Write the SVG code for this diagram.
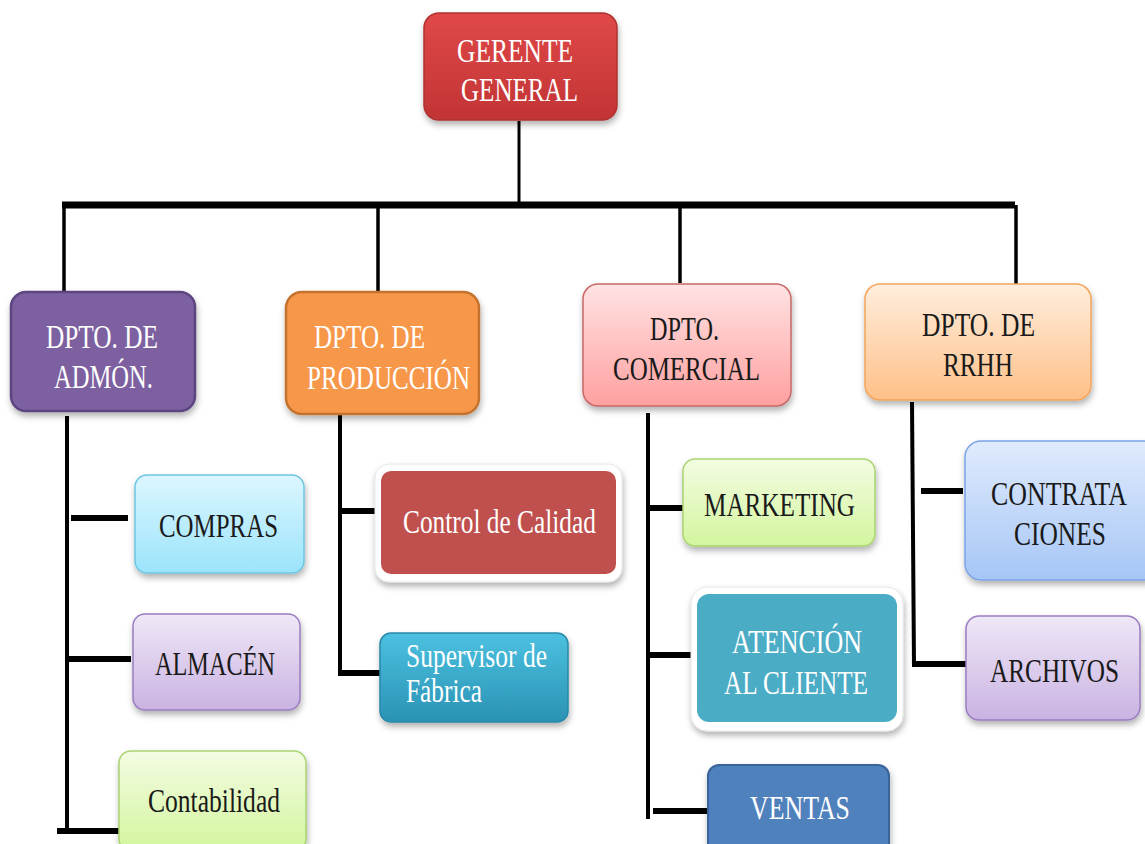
<svg xmlns="http://www.w3.org/2000/svg" width="1145" height="844" viewBox="0 0 1145 844">
<defs>
<filter id="sh" x="-10%" y="-10%" width="125%" height="130%">
<feDropShadow dx="1" dy="4" stdDeviation="3" flood-color="#000" flood-opacity="0.3"/>
</filter>
<linearGradient id="gRed" x1="0" y1="0" x2="0" y2="1"><stop offset="0" stop-color="#e04848"/><stop offset="1" stop-color="#c23434"/></linearGradient>
<linearGradient id="gPink" x1="0" y1="0" x2="0" y2="1"><stop offset="0" stop-color="#ffe3e3"/><stop offset="1" stop-color="#ffa0a0"/></linearGradient>
<linearGradient id="gPeach" x1="0" y1="0" x2="0" y2="1"><stop offset="0" stop-color="#ffeedd"/><stop offset="1" stop-color="#ffc088"/></linearGradient>
<linearGradient id="gCyan" x1="0" y1="0" x2="0" y2="1"><stop offset="0" stop-color="#dcf6ff"/><stop offset="1" stop-color="#9be4fb"/></linearGradient>
<linearGradient id="gLav" x1="0" y1="0" x2="0" y2="1"><stop offset="0" stop-color="#efe8f7"/><stop offset="1" stop-color="#c9b2e2"/></linearGradient>
<linearGradient id="gLime" x1="0" y1="0" x2="0" y2="1"><stop offset="0" stop-color="#f3fce2"/><stop offset="1" stop-color="#d3f59e"/></linearGradient>
<linearGradient id="gBlueL" x1="0" y1="0" x2="0" y2="1"><stop offset="0" stop-color="#e0ebfd"/><stop offset="1" stop-color="#a6c6f6"/></linearGradient>
<linearGradient id="gTeal" x1="0" y1="0" x2="0" y2="1"><stop offset="0" stop-color="#4cc0e0"/><stop offset="1" stop-color="#2a93b5"/></linearGradient>
</defs>
<style>
.t{font-family:"Liberation Serif","Times New Roman",serif;font-size:34px;}
.w{fill:#ffffff;}
.d{fill:#1a1a1a;}
.c{stroke:#000;fill:none;stroke-linecap:butt;}
</style>

<g id="connectors">
<line class="c" x1="519" y1="121" x2="519" y2="204" stroke-width="3"/>
<line class="c" x1="62" y1="205" x2="1015" y2="205" stroke-width="7"/>
<line class="c" x1="64" y1="205" x2="64" y2="292" stroke-width="3.5"/>
<line class="c" x1="378" y1="205" x2="378" y2="291" stroke-width="3.5"/>
<line class="c" x1="680" y1="205" x2="680" y2="283" stroke-width="3.5"/>
<line class="c" x1="1016" y1="205" x2="1016" y2="284" stroke-width="3.5"/>

<line class="c" x1="67" y1="416" x2="67" y2="832" stroke-width="4"/>
<line class="c" x1="71" y1="518" x2="128" y2="518" stroke-width="6"/>
<line class="c" x1="67" y1="659" x2="131" y2="659" stroke-width="6"/>
<line class="c" x1="57" y1="831" x2="120" y2="831" stroke-width="6"/>

<line class="c" x1="340" y1="415" x2="340" y2="675" stroke-width="4"/>
<line class="c" x1="342" y1="511" x2="377" y2="511" stroke-width="6"/>
<line class="c" x1="338" y1="673" x2="381" y2="673" stroke-width="6"/>

<line class="c" x1="648" y1="413" x2="648" y2="819" stroke-width="4"/>
<line class="c" x1="650" y1="508" x2="685" y2="508" stroke-width="6"/>
<line class="c" x1="650" y1="655" x2="698" y2="655" stroke-width="6"/>
<line class="c" x1="653" y1="811" x2="707" y2="811" stroke-width="6"/>

<line class="c" x1="912" y1="402" x2="914" y2="666" stroke-width="4"/>
<line class="c" x1="921" y1="491" x2="963" y2="491" stroke-width="6"/>
<line class="c" x1="912" y1="664" x2="969" y2="664" stroke-width="6"/>
</g>

<g id="gerente">
<rect x="424" y="13" width="193" height="107" rx="15" fill="url(#gRed)" stroke="#b03030" stroke-width="1.5" filter="url(#sh)"/>
<text class="t w" x="457" y="62" textLength="116" lengthAdjust="spacingAndGlyphs">GERENTE</text>
<text class="t w" x="461" y="101" textLength="117" lengthAdjust="spacingAndGlyphs">GENERAL</text>
</g>

<g id="admon">
<rect x="11" y="292" width="184" height="119" rx="15" fill="#7d60a0" stroke="#5c4580" stroke-width="2.5" filter="url(#sh)"/>
<text class="t w" x="46" y="348" textLength="112" lengthAdjust="spacingAndGlyphs">DPTO. DE</text>
<text class="t w" x="54" y="388" textLength="99" lengthAdjust="spacingAndGlyphs">ADMÓN.</text>
</g>

<g id="produccion">
<rect x="286" y="292" width="193" height="122" rx="16" fill="#f7974a" stroke="#c4732f" stroke-width="2.5" filter="url(#sh)"/>
<text class="t w" x="314" y="348" textLength="111" lengthAdjust="spacingAndGlyphs">DPTO. DE</text>
<text class="t w" x="307" y="389" textLength="163" lengthAdjust="spacingAndGlyphs">PRODUCCIÓN</text>
</g>

<g id="comercial">
<rect x="583" y="284" width="208" height="122" rx="15" fill="url(#gPink)" stroke="#c86868" stroke-width="1.5" filter="url(#sh)"/>
<text class="t d" x="650" y="340" textLength="69" lengthAdjust="spacingAndGlyphs">DPTO.</text>
<text class="t d" x="613" y="380" textLength="147" lengthAdjust="spacingAndGlyphs">COMERCIAL</text>
</g>

<g id="rrhh">
<rect x="865" y="284" width="226" height="116" rx="15" fill="url(#gPeach)" stroke="#f4a55c" stroke-width="1.5" filter="url(#sh)"/>
<text class="t d" x="922" y="336" textLength="113" lengthAdjust="spacingAndGlyphs">DPTO. DE</text>
<text class="t d" x="943" y="376" textLength="70" lengthAdjust="spacingAndGlyphs">RRHH</text>
</g>

<g id="compras">
<rect x="135" y="475" width="169" height="98" rx="12" fill="url(#gCyan)" stroke="#6cc6e2" stroke-width="1.5" filter="url(#sh)"/>
<text class="t d" x="159" y="537" textLength="119" lengthAdjust="spacingAndGlyphs">COMPRAS</text>
</g>

<g id="almacen">
<rect x="133" y="614" width="167" height="96" rx="12" fill="url(#gLav)" stroke="#9a7cc0" stroke-width="1.5" filter="url(#sh)"/>
<text class="t d" x="155" y="675" textLength="120" lengthAdjust="spacingAndGlyphs">ALMACÉN</text>
</g>

<g id="contabilidad">
<rect x="119" y="751" width="187" height="100" rx="12" fill="url(#gLime)" stroke="#a8d470" stroke-width="1.5" filter="url(#sh)"/>
<text class="t d" x="148" y="812" textLength="132" lengthAdjust="spacingAndGlyphs">Contabilidad</text>
</g>

<g id="control-calidad">
<rect x="375" y="464" width="247" height="118" rx="14" fill="#ffffff" stroke="#e6e6e6" stroke-width="1" filter="url(#sh)"/>
<rect x="381" y="471" width="235" height="103" rx="10" fill="#c0504d"/>
<text class="t w" x="403" y="533" textLength="193" lengthAdjust="spacingAndGlyphs">Control de Calidad</text>
</g>

<g id="supervisor">
<rect x="380" y="633" width="188" height="89" rx="11" fill="url(#gTeal)" stroke="#2a88a8" stroke-width="1.5" filter="url(#sh)"/>
<text class="t w" x="406" y="667" textLength="141" lengthAdjust="spacingAndGlyphs">Supervisor de</text>
<text class="t w" x="406" y="702" textLength="76" lengthAdjust="spacingAndGlyphs">Fábrica</text>
</g>

<g id="marketing">
<rect x="683" y="459" width="192" height="87" rx="12" fill="url(#gLime)" stroke="#a8d470" stroke-width="1.5" filter="url(#sh)"/>
<text class="t d" x="704" y="516" textLength="151" lengthAdjust="spacingAndGlyphs">MARKETING</text>
</g>

<g id="atencion">
<rect x="691" y="587" width="212" height="144" rx="16" fill="#ffffff" stroke="#e6e6e6" stroke-width="1" filter="url(#sh)"/>
<rect x="697" y="594" width="200" height="128" rx="12" fill="#4bacc6"/>
<text class="t w" x="732" y="653" textLength="130" lengthAdjust="spacingAndGlyphs">ATENCIÓN</text>
<text class="t w" x="724" y="694" textLength="144" lengthAdjust="spacingAndGlyphs">AL CLIENTE</text>
</g>

<g id="ventas">
<rect x="708" y="765" width="181" height="90" rx="11" fill="#4f81bd" stroke="#3a659a" stroke-width="2" filter="url(#sh)"/>
<text class="t w" x="750" y="819" textLength="100" lengthAdjust="spacingAndGlyphs">VENTAS</text>
</g>

<g id="contrataciones">
<rect x="965" y="441" width="195" height="139" rx="16" fill="url(#gBlueL)" stroke="#7aa4e6" stroke-width="1.5" filter="url(#sh)"/>
<text class="t d" x="991" y="505" textLength="136" lengthAdjust="spacingAndGlyphs">CONTRATA</text>
<text class="t d" x="1014" y="545" textLength="92" lengthAdjust="spacingAndGlyphs">CIONES</text>
</g>

<g id="archivos">
<rect x="966" y="616" width="174" height="104" rx="13" fill="url(#gLav)" stroke="#9a7cc0" stroke-width="1.5" filter="url(#sh)"/>
<text class="t d" x="990" y="682" textLength="129" lengthAdjust="spacingAndGlyphs">ARCHIVOS</text>
</g>
</svg>
